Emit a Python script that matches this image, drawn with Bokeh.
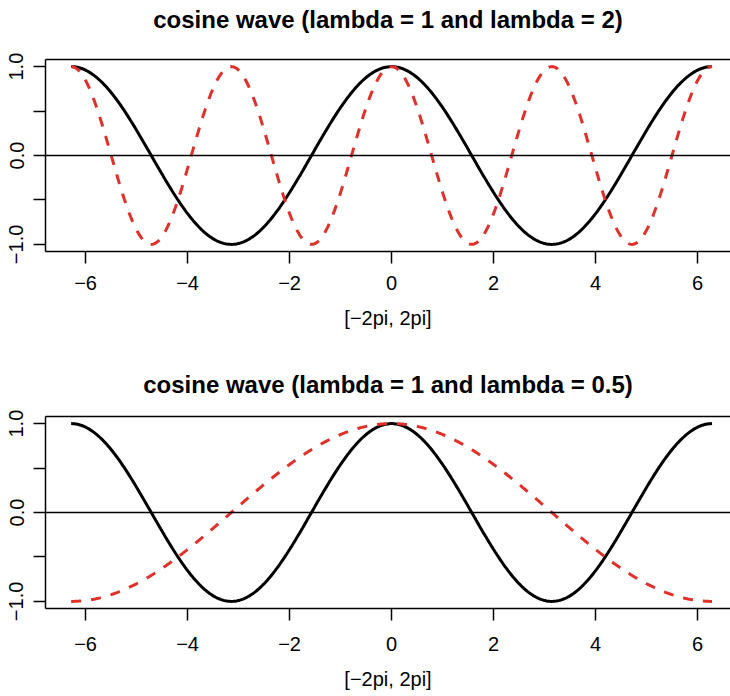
import numpy as np
from bokeh.plotting import figure
from bokeh.layouts import column
from bokeh.models import Range1d, FixedTicker, Span, LinearAxis
from bokeh.embed import file_html
from bokeh.resources import INLINE

# ---- data ----
x_limits = [-2 * np.pi, 2 * np.pi]
n_points = 400
titles = ["cosine wave (lambda = 1 and lambda = 2)",
          "cosine wave (lambda = 1 and lambda = 0.5)"]
lambdas_solid = [1, 1]
lambdas_dashed = [2, 0.5]
x_label = "[\u22122pi, 2pi]"
x_ticks = [-6, -4, -2, 0, 2, 4, 6]
x_tick_labels = ["\u22126", "\u22124", "\u22122", "0", "2", "4", "6"]
y_ticks = [-1.0, -0.5, 0.0, 0.5, 1.0]
y_tick_labels = ["\u22121.0", "", "0.0", "", "1.0"]

FONT = "Liberation Sans"
RED = "#E0302A"

x = np.linspace(x_limits[0], x_limits[1], n_points)


def make_panel(title, lam_solid, lam_dashed, height, border_top, border_bottom,
               title_standoff, xlab_standoff):
    p = figure(width=730, height=height, output_backend="svg", toolbar_location=None,
               x_range=Range1d(-6.786, 6.645), y_range=Range1d(-1.08, 1.08),
               min_border_left=45, min_border_right=0,
               min_border_top=border_top, min_border_bottom=border_bottom)
    p.outline_line_color = None
    p.grid.visible = False
    p.background_fill_color = "white"
    p.border_fill_color = "white"

    # x axis
    xa = p.xaxis[0]
    xa.ticker = FixedTicker(ticks=x_ticks)
    xa.major_label_overrides = {t: l for t, l in zip(x_ticks, x_tick_labels)}
    xa.axis_label = x_label
    xa.axis_label_text_font = FONT
    xa.axis_label_text_font_size = "20px"
    xa.axis_label_text_font_style = "normal"
    xa.axis_label_text_color = "black"
    xa.axis_label_standoff = 14
    # y axis
    ya = p.yaxis[0]
    ya.ticker = FixedTicker(ticks=y_ticks)
    ya.major_label_overrides = {t: l for t, l in zip(y_ticks, y_tick_labels)}
    ya.major_label_orientation = "vertical"
    for a in (xa, ya):
        a.major_label_text_font = FONT
        a.major_label_text_font_size = "20px"
        a.major_label_text_color = "black"
        a.major_tick_out = 12
        a.major_tick_in = 0
        a.major_tick_line_width = 1.5
        a.major_tick_line_color = "black"
        a.minor_tick_line_color = None
        a.axis_line_width = 1.5
        a.axis_line_color = "black"
    xa.major_label_standoff = xlab_standoff
    ya.major_label_standoff = 10

    # top border of the box, carrying the title as its label
    top = LinearAxis(ticker=FixedTicker(ticks=[]), major_tick_out=0, major_tick_in=0,
                     major_label_standoff=0, major_label_text_font_size="0px",
                     minor_tick_line_color=None, axis_line_width=1.5,
                     axis_line_color="black", axis_label=title,
                     axis_label_text_font=FONT, axis_label_text_font_size="24px",
                     axis_label_text_font_style="bold", axis_label_text_color="black",
                     axis_label_standoff=title_standoff)
    p.add_layout(top, "above")

    # reference line at zero
    p.add_layout(Span(location=0, dimension="width", line_color="black", line_width=1.3))
    p.line(x, np.cos(lam_solid * x), line_color="black", line_width=3)
    p.line(x, np.cos(lam_dashed * x), line_color=RED, line_width=3, line_dash="10 10")
    return p


p1 = make_panel(titles[0], lambdas_solid[0], lambdas_dashed[0], 357, 59, 106, 27, 12)
p2 = make_panel(titles[1], lambdas_solid[1], lambdas_dashed[1], 339, 59, 88, 19, 16)
layout = column(p1, p2, spacing=0)

open("out.html", "w").write(file_html(layout, INLINE))
